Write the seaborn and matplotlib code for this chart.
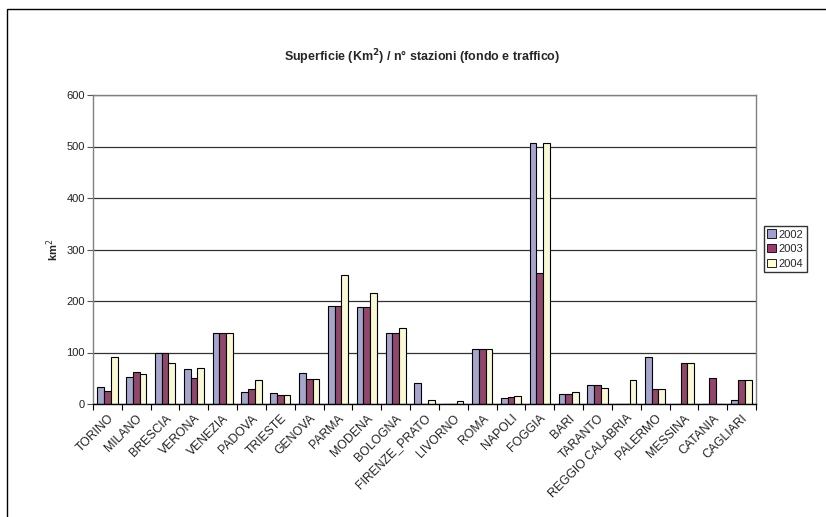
import pandas as pd
import matplotlib.pyplot as plt
import seaborn as sns
from matplotlib.patches import Rectangle

sns.set_style("white")
plt.rcParams['font.family'] = ['Liberation Sans', 'DejaVu Sans']

# data
cities = ["TORINO", "MILANO", "BRESCIA", "VERONA", "VENEZIA", "PADOVA", "TRIESTE",
          "GENOVA", "PARMA", "MODENA", "BOLOGNA", "FIRENZE_PRATO", "LIVORNO", "ROMA",
          "NAPOLI", "FOGGIA", "BARI", "TARANTO", "REGGIO CALABRIA", "PALERMO",
          "MESSINA", "CATANIA", "CAGLIARI"]
years = ["2002", "2003", "2004"]
v2002 = [33, 53, 100, 67, 138, 23, 21, 60, 191, 188, 137, 40, 0, 107,
         12, 507, 19, 36, 0, 91, 0, 0, 7]
v2003 = [26, 62, 100, 50, 138, 30, 17, 49, 191, 188, 137, 0, 0, 107,
         14, 254, 19, 36, 0, 29, 79, 50, 46]
v2004 = [92, 59, 79, 69, 138, 46, 17, 49, 250, 216, 147, 7, 6, 107,
         16, 507, 23, 31, 47, 29, 79, 0, 46]
colors = ["#A0A0D2", "#9E3A6B", "#FFFFD0"]

rows = []
for yr, vals in zip(years, [v2002, v2003, v2004]):
    for c, v in zip(cities, vals):
        rows.append({"city": c, "year": yr, "km2": v})
df = pd.DataFrame(rows)

fig = plt.figure(figsize=(8.26, 5.17), dpi=100)
ax = fig.add_axes([93 / 826, 1 - 404 / 517, 663 / 826, 309 / 517])

sns.barplot(data=df, x="city", y="km2", hue="year", order=cities,
            palette=colors, width=0.70, gap=0, edgecolor="black",
            linewidth=0.8, legend=False, ax=ax)

ncat = len(cities)
ax.set_xlim(-0.5, ncat - 0.5)
ax.set_ylim(0, 600)
ax.set_yticks(range(0, 601, 100))
ax.yaxis.grid(True, color="#333333", linewidth=0.9)
ax.set_axisbelow(True)

ax.set_xticks(range(ncat))
ax.set_xticklabels(cities, rotation=45, ha="right", rotation_mode="anchor",
                   fontsize=8.8, color="#222222")
ax.set_xticks([i - 0.5 for i in range(ncat + 1)], minor=True)
ax.tick_params(axis="x", which="major", length=0, pad=6)
ax.tick_params(axis="x", which="minor", length=4, width=0.8, color="black",
               direction="out", bottom=True)
ax.tick_params(axis="y", length=4, width=0.8, color="#555555", direction="out",
               left=True, labelsize=8, labelcolor="#222222", pad=2)

for side in ["left", "top", "right"]:
    ax.spines[side].set_color("#808080")
    ax.spines[side].set_linewidth(1)
ax.spines["bottom"].set_color("black")
ax.spines["bottom"].set_linewidth(1)

ax.set_xlabel("")
ax.set_ylabel("km$^2$", fontsize=8, fontweight="bold", labelpad=4)

fig.text(422 / 826, 1 - 57 / 517,
         "Superficie (Km$^{\\mathbf{2}}$) / n° stazioni (fondo e traffico)",
         ha="center", va="center", fontsize=9, fontweight="bold")

handles = [Rectangle((0, 0), 1, 1, facecolor=c, edgecolor="black", linewidth=0.6)
           for c in colors]
fig.legend(handles, years, loc="center left", bbox_to_anchor=(764 / 826, 1 - 249 / 517),
           fontsize=8, frameon=True, fancybox=False, edgecolor="black",
           handlelength=0.8, handleheight=0.8, handletextpad=0.2,
           labelspacing=0.4, borderpad=0.3, borderaxespad=0)

# chart area border (right and bottom edges fall outside the image)
fig.patches.append(Rectangle((7 / 826, -0.1), 1.2, 1 - 9 / 517 + 0.1,
                             transform=fig.transFigure, fill=False,
                             edgecolor="black", linewidth=1))

fig.savefig("out.png", dpi=100)
